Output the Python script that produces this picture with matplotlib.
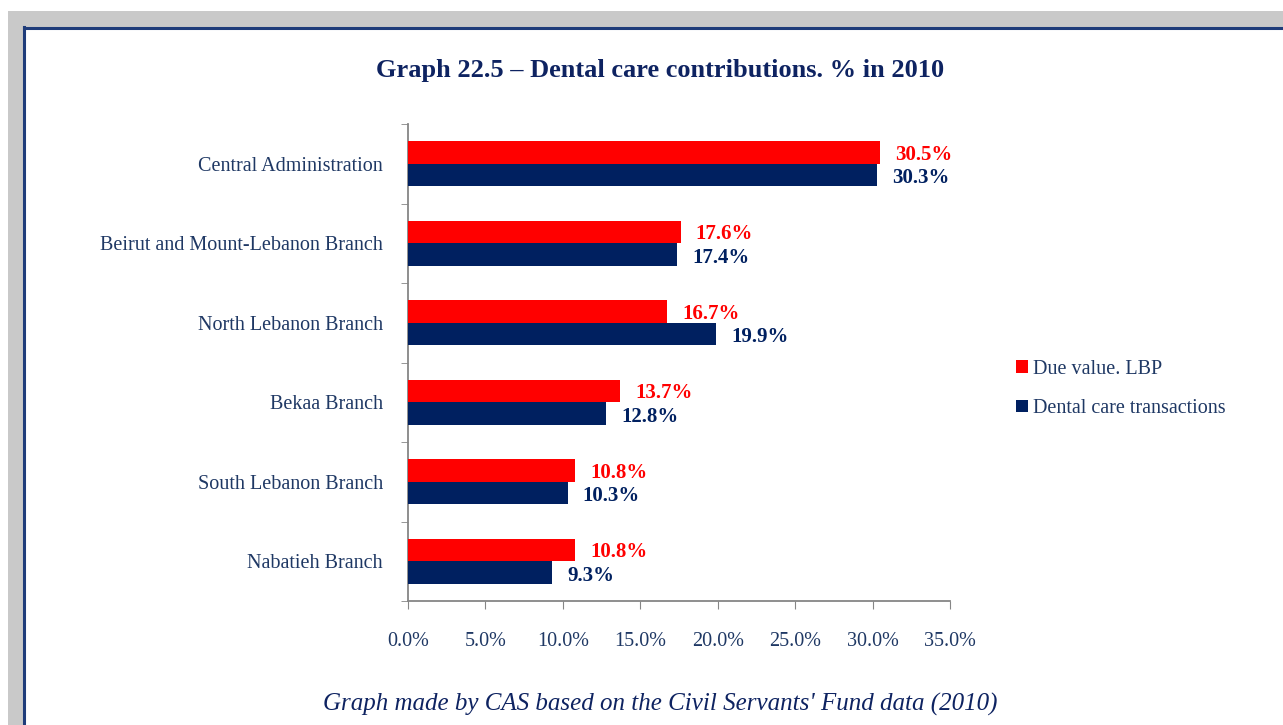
import matplotlib
matplotlib.use("Agg")
import matplotlib.pyplot as plt
from matplotlib.patches import Rectangle
from matplotlib.lines import Line2D
import numpy as np

categories = ["Central Administration", "Beirut and Mount-Lebanon Branch",
              "North Lebanon Branch", "Bekaa Branch", "South Lebanon Branch",
              "Nabatieh Branch"]
due_value = [30.5, 17.6, 16.7, 13.7, 10.8, 10.8]
transactions = [30.3, 17.4, 19.9, 12.8, 10.3, 9.3]
series_names = ["Due value. LBP", "Dental care transactions"]
xticks = [0, 5, 10, 15, 20, 25, 30, 35]

RED = "#FF0000"
NAVY = "#002060"
TXT = "#1F3864"
TITLE = "#0E2361"
GRAY = "#868686"

plt.rcParams['font.family'] = ['Liberation Serif', 'DejaVu Serif']

W, H = 1283, 725
fig = plt.figure(figsize=(W / 100, H / 100), dpi=100)
fig.patch.set_facecolor("white")

# page background: gray frame band and blue border
fig.patches.append(Rectangle((8 / W, 0), 1 - 8 / W, 1 - 11 / H, transform=fig.transFigure,
                             facecolor="#C9C9C9", edgecolor="none", zorder=-5))
fig.patches.append(Rectangle((23 / W, 0), 1 - 23 / W, 1 - 27 / H, transform=fig.transFigure,
                             facecolor="white", edgecolor="none", zorder=-4))
fig.lines.append(Line2D([24 / W, 24 / W], [0, 1 - 27 / H], transform=fig.transFigure,
                        color="#1F3C7A", lw=2.2, zorder=-3))
fig.lines.append(Line2D([24 / W, 1], [1 - 28 / H, 1 - 28 / H], transform=fig.transFigure,
                        color="#1F3C7A", lw=2.2, zorder=-3))

ax = fig.add_axes([408 / W, 1 - 601 / H, (950 - 408) / W, (601 - 124) / H])
ax.set_facecolor("none")

n = len(categories)
y = np.arange(n)[::-1].astype(float)
bh = 0.28
ax.barh(y + bh / 2, due_value, height=bh, color=RED, label=series_names[0], zorder=3)
ax.barh(y - bh / 2, transactions, height=bh, color=NAVY, label=series_names[1], zorder=3)

for yi, v in zip(y, due_value):
    ax.annotate(f"{v:.1f}%", (v, yi + bh / 2), xytext=(11, -1.5), textcoords="offset points",
                va="center", ha="left", color=RED, fontsize=15, fontweight="bold")
for yi, v in zip(y, transactions):
    ax.annotate(f"{v:.1f}%", (v, yi - bh / 2), xytext=(11, -2.5), textcoords="offset points",
                va="center", ha="left", color=NAVY, fontsize=15, fontweight="bold")

ax.set_xlim(0, 35)
ax.set_ylim(-0.5, n - 0.5)
ax.set_xticks(xticks)
ax.set_xticklabels([f"{t:.1f}%" for t in xticks], color=TXT, fontsize=14.5)
ax.set_yticks(y)
ax.set_yticklabels(categories, color=TXT, fontsize=14.5)
ax.tick_params(axis="y", which="major", length=0, pad=18)
ax.set_yticks(np.arange(n + 1) - 0.5, minor=True)
ax.tick_params(axis="y", which="minor", length=5, color=GRAY, direction="out")
ax.tick_params(axis="x", length=6, color=GRAY, direction="out", pad=16)
for s in ["top", "right"]:
    ax.spines[s].set_visible(False)
for s in ["left", "bottom"]:
    ax.spines[s].set_color(GRAY)
    ax.spines[s].set_linewidth(1.3)

fig.text(660 / W, 1 - 70 / H, "Graph 22.5 \u2013 Dental care contributions. % in 2010",
         ha="center", va="center", fontsize=19, fontweight="bold", color=TITLE)
fig.text(660 / W, 1 - 704 / H, "Graph made by CAS based on the Civil Servants' Fund data (2010)",
         ha="center", va="center", fontsize=18, fontstyle="italic", color=TITLE)

leg = fig.legend(loc="center left", bbox_to_anchor=(1008 / W, 1 - 389 / H), frameon=False,
                 fontsize=14.5, handlelength=0.6, handleheight=0.6, handletextpad=0.25,
                 labelspacing=1.0, borderaxespad=0)
for t in leg.get_texts():
    t.set_color(TXT)

fig.savefig("out.png", dpi=100, facecolor="white")
